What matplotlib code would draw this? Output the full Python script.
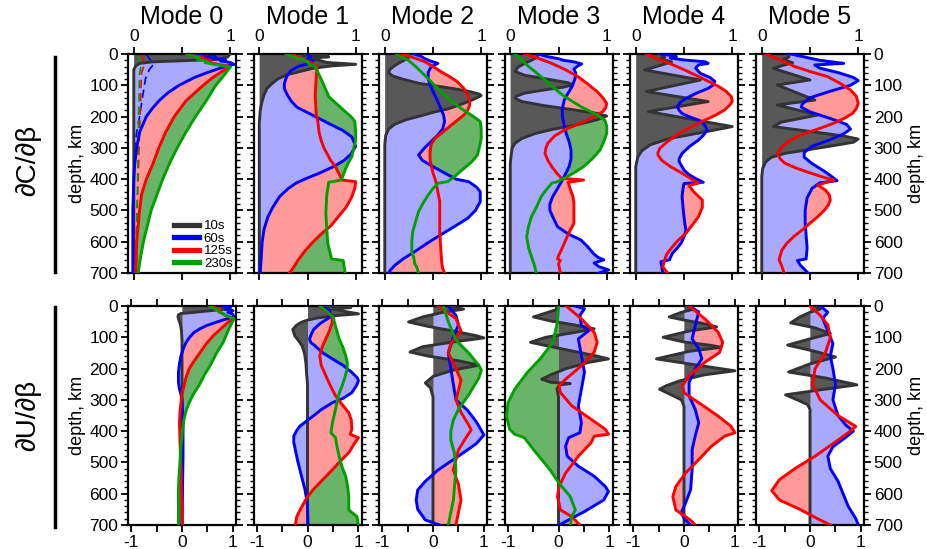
import numpy as np
import matplotlib.pyplot as plt
from matplotlib.lines import Line2D
from matplotlib.ticker import MultipleLocator

plt.rcParams['font.family'] = ['Liberation Sans', 'DejaVu Sans']

periods = ['10s', '60s', '125s', '230s']
line_colors = ['#333333', '#0000ff', '#ff0000', '#00a000']
fill_colors = ['#585858', '#a9a9ff', '#ff9a9a', '#69b469']
modes = [0, 1, 2, 3, 4, 5]

# ---- phase velocity kernels dC/dbeta : (depth km, normalised kernel) ----
dc_m0_10s = [(0, 1.0), (10, 0.97), (17, 0.88), (21, 0.55), (25, 0.2), (30, 0.06), (38, 0.02), (50, 0.0), (700, 0.0)]
dc_m0_60s = [(0, 0.6), (5, 0.62), (9, 0.85), (13, 0.78), (18, 0.95), (22, 0.9), (27, 1.0), (33, 1.04), (40, 0.95),
             (50, 0.85), (62, 0.74), (75, 0.63), (100, 0.47), (125, 0.35), (150, 0.26), (175, 0.19), (200, 0.13),
             (250, 0.06), (300, 0.03), (350, 0.01), (400, 0.0), (500, -0.01), (700, -0.01)]
dc_m0_125s = [(0, 0.55), (5, 0.6), (10, 0.72), (15, 0.68), (20, 0.8), (25, 0.76), (30, 0.82), (40, 1.0), (55, 0.92),
              (75, 0.82), (100, 0.72), (150, 0.54), (200, 0.42), (250, 0.33), (300, 0.26), (350, 0.2), (400, 0.13),
              (450, 0.08), (500, 0.06), (600, 0.03), (700, 0.02)]
dc_m0_230s = [(0, 0.55), (6, 0.6), (12, 0.68), (17, 0.66), (22, 0.75), (27, 0.74), (32, 0.82), (42, 1.0), (70, 0.93),
              (100, 0.85), (150, 0.75), (200, 0.64), (250, 0.54), (300, 0.45), (350, 0.37), (400, 0.3), (450, 0.24),
              (500, 0.18), (550, 0.14), (600, 0.1), (650, 0.07), (700, 0.045)]
# fundamental mode, second set of kernels (dashed)
dc_m0_60s_b = [(0, 0.13), (10, 0.15), (25, 0.19), (35, 0.2), (50, 0.16), (80, 0.12), (120, 0.1), (160, 0.08),
               (200, 0.06), (250, 0.03), (300, 0.01), (400, 0.0), (700, 0.0)]
dc_m0_125s_b = [(0, 0.08), (20, 0.1), (35, 0.11), (60, 0.08), (150, 0.07), (250, 0.06), (350, 0.05), (450, 0.04),
                (550, 0.03), (700, 0.02)]
dc_m0_230s_b = [(0, 0.05), (20, 0.06), (35, 0.08), (60, 0.06), (200, 0.05), (400, 0.04), (550, 0.03), (700, 0.03)]

dc_m1_10s = [(0, 0.7), (5, 0.45), (9, 0.72), (14, 0.5), (20, 0.62), (27, 0.7), (33, 1.0), (38, 0.75), (46, 0.55),
             (56, 0.42), (67, 0.28), (80, 0.19), (95, 0.13), (110, 0.08), (130, 0.05), (150, 0.03), (180, 0.01),
             (220, 0.0), (700, 0.0)]
dc_m1_60s = [(0, 0.5), (8, 0.53), (15, 0.5), (22, 0.56), (30, 0.52), (40, 0.4), (55, 0.32), (75, 0.28), (95, 0.26),
             (110, 0.26), (130, 0.29), (150, 0.33), (170, 0.39), (195, 0.55), (222, 0.72), (245, 0.87), (265, 0.96),
             (295, 1.0), (320, 0.95), (340, 0.88), (360, 0.77), (380, 0.63), (400, 0.47), (413, 0.38), (430, 0.3),
             (456, 0.21), (490, 0.14), (520, 0.09), (560, 0.05), (600, 0.03), (650, 0.02), (700, 0.01)]
dc_m1_125s = [(0, 0.35), (10, 0.4), (20, 0.48), (30, 0.55), (40, 0.6), (80, 0.59), (130, 0.58), (190, 0.59),
              (222, 0.61), (250, 0.62), (275, 0.64), (300, 0.67), (317, 0.7), (340, 0.74), (360, 0.79), (385, 0.83),
              (403, 0.86), (408, 1.0), (430, 0.99), (456, 0.96), (490, 0.9), (520, 0.82), (550, 0.74), (573, 0.65),
              (600, 0.56), (627, 0.48), (660, 0.4), (685, 0.35), (700, 0.31)]
dc_m1_230s = [(0, 0.28), (5, 0.32), (12, 0.38), (18, 0.45), (25, 0.5), (33, 0.52), (40, 0.58), (60, 0.61),
              (100, 0.67), (136, 0.72), (170, 0.84), (200, 0.95), (215, 0.99), (250, 1.0), (275, 1.0), (300, 0.98),
              (328, 0.96), (350, 0.92), (371, 0.89), (403, 0.85), (410, 0.72), (450, 0.7), (509, 0.69), (560, 0.7),
              (605, 0.71), (655, 0.75), (660, 0.87), (700, 0.89)]

dc_m2_10s = [(0, 0.25), (10, 0.25), (20, 0.2), (30, 0.14), (40, 0.09), (50, 0.05), (60, 0.04), (70, 0.08), (80, 0.18),
             (94, 0.36), (110, 0.7), (120, 0.88), (128, 0.98), (133, 1.0), (145, 0.92), (160, 0.8), (175, 0.66),
             (185, 0.52), (197, 0.38), (210, 0.22), (225, 0.1), (240, 0.04), (260, 0.01), (290, 0.0), (700, 0.0)]
dc_m2_60s = [(0, 0.3), (8, 0.38), (14, 0.41), (22, 0.47), (30, 0.55), (38, 0.5), (46, 0.47), (60, 0.45), (78, 0.45),
             (100, 0.47), (120, 0.5), (145, 0.54), (174, 0.58), (195, 0.61), (216, 0.62), (240, 0.6), (259, 0.55),
             (280, 0.48), (301, 0.41), (323, 0.35), (340, 0.39), (360, 0.5), (387, 0.66), (400, 0.74), (408, 0.87),
             (425, 0.95), (440, 0.99), (472, 0.99), (500, 0.94), (525, 0.86), (550, 0.73), (578, 0.58), (605, 0.44),
             (632, 0.31), (655, 0.19), (674, 0.11), (690, 0.06), (700, 0.04)]
dc_m2_125s = [(0, 0.18), (10, 0.28), (24, 0.41), (40, 0.5), (56, 0.58), (72, 0.67), (88, 0.75), (110, 0.82),
              (131, 0.86), (150, 0.88), (163, 0.88), (180, 0.86), (195, 0.82), (210, 0.76), (227, 0.69), (250, 0.6),
              (270, 0.52), (290, 0.48), (312, 0.47), (335, 0.47), (355, 0.48), (380, 0.5), (408, 0.53), (440, 0.55),
              (472, 0.57), (520, 0.57), (568, 0.57), (620, 0.58), (664, 0.59), (685, 0.6), (700, 0.62)]
dc_m2_230s = [(0, 0.12), (10, 0.17), (19, 0.24), (40, 0.32), (67, 0.41), (95, 0.5), (120, 0.58), (150, 0.69),
              (174, 0.79), (190, 0.87), (200, 0.92), (216, 0.99), (240, 1.0), (270, 1.0), (300, 0.98), (323, 0.96),
              (345, 0.9), (366, 0.82), (390, 0.73), (408, 0.65), (413, 0.55), (430, 0.5), (451, 0.45), (475, 0.4),
              (504, 0.35), (535, 0.32), (568, 0.29), (600, 0.28), (632, 0.28), (650, 0.3), (670, 0.31), (680, 0.33),
              (700, 0.35)]

dc_m3_10s = [(0, 0.28), (10, 0.28), (20, 0.22), (30, 0.15), (42, 0.08), (56, 0.05), (68, 0.15), (80, 0.38),
             (92, 0.6), (99, 0.65), (106, 0.55), (115, 0.35), (125, 0.15), (135, 0.06), (142, 0.05), (152, 0.12),
             (165, 0.35), (178, 0.65), (190, 0.9), (198, 1.0), (210, 0.9), (227, 0.68), (240, 0.45), (254, 0.26),
             (270, 0.12), (285, 0.05), (300, 0.02), (320, 0.01), (350, 0.0), (700, 0.0)]
dc_m3_60s = [(0, 0.29), (8, 0.38), (15, 0.5), (20, 0.55), (25, 0.66), (32, 0.74), (38, 0.7), (48, 0.66), (62, 0.68),
             (80, 0.67), (104, 0.64), (125, 0.6), (147, 0.56), (175, 0.54), (200, 0.54), (230, 0.56), (254, 0.58),
             (280, 0.61), (307, 0.63), (335, 0.63), (360, 0.61), (385, 0.57), (403, 0.54), (430, 0.49), (456, 0.44),
             (480, 0.41), (499, 0.41), (520, 0.44), (552, 0.49), (575, 0.6), (594, 0.73), (615, 0.8), (637, 0.86),
             (650, 0.91), (658, 0.97), (668, 0.87), (680, 0.92), (690, 1.02), (700, 0.92)]
dc_m3_125s = [(0, 0.15), (15, 0.3), (30, 0.43), (50, 0.57), (72, 0.7), (95, 0.8), (120, 0.9), (140, 0.96), (158, 1.0),
              (172, 0.99), (184, 0.96), (198, 0.88), (211, 0.8), (227, 0.68), (243, 0.56), (262, 0.46), (285, 0.39),
              (300, 0.37), (318, 0.36), (340, 0.39), (360, 0.43), (380, 0.48), (397, 0.53), (403, 0.76), (410, 0.6),
              (430, 0.62), (456, 0.65), (477, 0.66), (510, 0.66), (541, 0.66), (565, 0.62), (584, 0.59), (605, 0.56),
              (626, 0.53), (645, 0.5), (655, 0.49), (660, 0.52), (670, 0.5), (700, 0.52)]
dc_m3_230s = [(0, 0.05), (20, 0.12), (40, 0.19), (60, 0.27), (83, 0.36), (105, 0.44), (126, 0.52), (147, 0.62),
              (168, 0.73), (182, 0.82), (195, 0.9), (211, 0.98), (230, 1.0), (254, 1.0), (280, 0.97), (307, 0.93),
              (335, 0.85), (360, 0.76), (378, 0.67), (392, 0.59), (403, 0.52), (408, 0.49), (413, 0.43), (435, 0.37),
              (456, 0.32), (490, 0.27), (520, 0.22), (550, 0.19), (584, 0.17), (620, 0.19), (648, 0.22), (675, 0.25),
              (700, 0.27)]

dc_m4_10s = [(0, 0.25), (10, 0.3), (15, 0.25), (25, 0.37), (35, 0.27), (51, 0.09), (83, 0.67), (120, 0.11),
             (152, 0.75), (184, 0.13), (232, 1.0), (250, 0.7), (270, 0.35), (290, 0.15), (310, 0.06), (330, 0.02),
             (360, 0.0), (700, 0.0)]
dc_m4_60s = [(0, 0.27), (8, 0.42), (13, 0.36), (19, 0.5), (25, 0.72), (30, 0.75), (35, 0.65), (45, 0.62), (62, 0.67),
             (75, 0.77), (88, 0.82), (100, 0.8), (110, 0.75), (125, 0.63), (142, 0.52), (155, 0.46), (168, 0.43),
             (180, 0.45), (190, 0.48), (200, 0.55), (211, 0.65), (225, 0.71), (243, 0.74), (260, 0.7), (275, 0.65),
             (295, 0.56), (318, 0.48), (335, 0.45), (344, 0.45), (360, 0.48), (371, 0.5), (385, 0.55), (398, 0.62),
             (410, 0.7), (414, 0.5), (430, 0.49), (456, 0.48), (490, 0.49), (520, 0.5), (545, 0.51), (563, 0.52),
             (585, 0.5), (605, 0.47), (620, 0.43), (637, 0.38), (650, 0.36), (658, 0.35), (664, 0.26), (680, 0.27),
             (700, 0.28)]
dc_m4_125s = [(0, 0.11), (15, 0.22), (30, 0.35), (50, 0.5), (72, 0.65), (90, 0.77), (104, 0.86), (120, 0.94),
              (136, 0.99), (152, 1.0), (165, 0.97), (179, 0.92), (195, 0.83), (211, 0.72), (232, 0.58), (254, 0.45),
              (280, 0.33), (301, 0.25), (315, 0.23), (323, 0.23), (340, 0.27), (360, 0.36), (381, 0.48), (400, 0.58),
              (413, 0.65), (420, 0.55), (440, 0.6), (467, 0.69), (490, 0.69), (520, 0.65), (545, 0.59), (573, 0.52),
              (595, 0.44), (616, 0.38), (640, 0.32), (658, 0.3), (680, 0.28), (700, 0.33)]

dc_m5_10s = [(0, 0.28), (10, 0.28), (18, 0.22), (28, 0.32), (38, 0.2), (46, 0.12), (83, 0.5), (99, 0.16),
             (147, 0.55), (163, 0.16), (195, 0.58), (218, 0.2), (232, 0.12), (262, 0.85), (272, 1.0), (282, 0.95),
             (295, 0.7), (305, 0.5), (317, 0.25), (330, 0.1), (345, 0.04), (365, 0.01), (390, 0.0), (700, 0.0)]
dc_m5_60s = [(0, 0.3), (10, 0.45), (20, 0.6), (30, 0.85), (35, 0.55), (45, 0.6), (60, 0.8), (75, 0.95), (85, 1.0),
             (100, 0.92), (120, 0.7), (140, 0.5), (160, 0.42), (170, 0.41), (185, 0.5), (205, 0.7), (225, 0.88),
             (240, 0.92), (255, 0.85), (275, 0.7), (295, 0.52), (315, 0.44), (330, 0.44), (350, 0.52), (375, 0.65),
             (395, 0.74), (405, 0.78), (412, 0.6), (430, 0.52), (460, 0.47), (500, 0.45), (540, 0.45), (580, 0.46),
             (620, 0.47), (655, 0.46), (660, 0.37), (675, 0.4), (700, 0.48)]
dc_m5_125s = [(0, 0.04), (20, 0.2), (40, 0.34), (56, 0.5), (72, 0.68), (95, 0.82), (115, 0.92), (135, 0.98),
              (158, 1.0), (175, 0.98), (190, 0.94), (205, 0.86), (222, 0.74), (238, 0.6), (254, 0.44), (275, 0.3),
              (296, 0.21), (317, 0.16), (335, 0.19), (349, 0.24), (365, 0.36), (381, 0.51), (395, 0.65), (403, 0.75),
              (419, 0.58), (435, 0.66), (450, 0.7), (467, 0.71), (483, 0.69), (499, 0.65), (520, 0.58), (541, 0.5),
              (562, 0.42), (584, 0.33), (605, 0.26), (626, 0.21), (645, 0.19), (658, 0.18), (680, 0.21), (700, 0.23)]

# ---- group velocity kernels dU/dbeta ----
du_m0_10s = [(0, 0.9), (5, 0.95), (10, 0.85), (15, 0.55), (20, 0.25), (24, -0.02), (28, -0.07), (35, -0.08),
             (45, -0.06), (60, -0.03), (80, -0.01), (110, 0.0), (700, 0.0)]
du_m0_60s = [(0, 0.8), (5, 0.95), (10, 0.85), (15, 1.0), (20, 0.9), (27, 1.0), (35, 1.02), (45, 0.8), (62, 0.49),
             (73, 0.35), (84, 0.24), (100, 0.15), (116, 0.08), (135, 0.03), (159, -0.02), (185, -0.05), (212, -0.07),
             (244, -0.07), (265, -0.05), (277, -0.03), (298, 0.0), (330, 0.01), (373, 0.02), (480, 0.02), (587, 0.01),
             (700, 0.0)]
du_m0_125s = [(0, 0.6), (6, 0.65), (12, 0.75), (18, 0.72), (24, 0.8), (30, 0.85), (39, 1.0), (60, 0.85), (94, 0.62),
              (120, 0.48), (148, 0.36), (175, 0.24), (201, 0.14), (228, 0.08), (255, 0.04), (280, 0.0), (309, -0.02),
              (340, -0.04), (373, -0.05), (427, -0.04), (480, -0.03), (534, -0.02), (600, -0.01), (641, 0.0),
              (700, 0.01)]
du_m0_230s = [(0, 0.55), (6, 0.6), (12, 0.7), (18, 0.72), (24, 0.8), (30, 0.85), (41, 1.02), (80, 0.9), (116, 0.81),
              (150, 0.68), (191, 0.55), (220, 0.44), (255, 0.33), (280, 0.23), (309, 0.14), (335, 0.08), (362, 0.04),
              (395, 0.01), (427, -0.01), (465, -0.03), (501, -0.04), (545, -0.06), (587, -0.07), (650, -0.07),
              (700, -0.07)]

du_m1_10s = [(0, 0.35), (5, 0.85), (10, 0.5), (18, 0.75), (25, 1.0), (30, 0.6), (38, 0.2), (45, 0.0), (52, -0.12),
             (62, -0.22), (75, -0.29), (95, -0.25), (110, -0.18), (126, -0.11), (145, -0.07), (160, -0.05),
             (185, -0.03), (212, -0.02), (250, 0.0), (700, 0.0)]
du_m1_60s = [(0, 0.25), (8, 0.35), (15, 0.45), (22, 0.42), (30, 0.49), (40, 0.4), (57, 0.24), (75, 0.12), (89, 0.08),
             (105, 0.04), (116, 0.06), (126, 0.14), (150, 0.3), (169, 0.49), (190, 0.7), (212, 0.87), (230, 0.98),
             (239, 1.0), (255, 0.96), (277, 0.87), (295, 0.7), (309, 0.49), (330, 0.28), (352, 0.11), (368, -0.02),
             (384, -0.15), (400, -0.22), (416, -0.27), (435, -0.27), (459, -0.24), (490, -0.2), (523, -0.15),
             (555, -0.1), (587, -0.05), (615, -0.02), (641, 0.0), (700, 0.01)]
du_m1_125s = [(0, 0.25), (10, 0.3), (20, 0.38), (30, 0.47), (51, 0.49), (80, 0.43), (105, 0.36), (130, 0.29),
              (159, 0.24), (190, 0.27), (223, 0.36), (255, 0.45), (287, 0.55), (315, 0.68), (341, 0.81), (365, 0.86),
              (394, 0.87), (410, 0.84), (421, 1.0), (445, 0.9), (469, 0.81), (495, 0.65), (523, 0.49), (555, 0.3),
              (587, 0.11), (615, -0.02), (641, -0.11), (660, -0.17), (673, -0.21), (700, -0.24)]
du_m1_230s = [(0, 0.25), (10, 0.32), (20, 0.4), (35, 0.5), (70, 0.56), (105, 0.62), (130, 0.69), (159, 0.75),
              (180, 0.78), (201, 0.78), (230, 0.73), (255, 0.68), (280, 0.62), (298, 0.59), (330, 0.55), (373, 0.49),
              (405, 0.46), (421, 0.55), (450, 0.58), (480, 0.62), (515, 0.68), (544, 0.75), (580, 0.79), (609, 0.81),
              (652, 0.81), (673, 0.97), (700, 1.0)]

du_m2_10s = [(0, 0.3), (10, 0.6), (20, 0.2), (35, -0.2), (51, -0.48), (65, -0.1), (80, 0.4), (95, 0.85), (102, 1.0),
             (115, 0.4), (130, -0.2), (147, -0.45), (160, -0.1), (175, 0.5), (189, 0.9), (205, 0.4), (225, 0.0),
             (246, -0.15), (262, -0.05), (290, 0.0), (700, 0.0)]
du_m2_60s = [(0, 0.3), (30, 0.45), (60, 0.5), (100, 0.4), (150, 0.3), (200, 0.35), (250, 0.4), (300, 0.45),
             (332, 0.67), (370, 0.85), (412, 1.0), (440, 0.85), (480, 0.5), (524, 0.1), (560, -0.15), (588, -0.3),
             (620, -0.33), (650, -0.3), (684, -0.15), (700, 0.13)]
du_m2_125s = [(0, 0.1), (40, 0.45), (80, 0.55), (120, 0.35), (150, 0.3), (200, 0.45), (237, 0.55), (270, 0.5),
              (300, 0.45), (340, 0.55), (380, 0.7), (396, 0.75), (420, 0.65), (460, 0.5), (524, 0.4), (570, 0.5),
              (620, 0.55), (660, 0.5), (700, 0.45)]
du_m2_230s = [(0, 0.2), (50, 0.3), (109, 0.45), (150, 0.7), (190, 0.9), (205, 0.95), (230, 0.9), (284, 0.7),
              (330, 0.5), (364, 0.4), (400, 0.35), (428, 0.35), (470, 0.42), (524, 0.45), (580, 0.42), (620, 0.4),
              (660, 0.35), (700, 0.3)]

du_m3_10s = [(0, -0.05), (10, -0.02), (20, -0.2), (35, -0.49), (48, -0.15), (60, 0.3), (73, 0.7), (85, 0.3),
             (100, -0.25), (116, -0.55), (130, -0.15), (148, 0.4), (160, 0.75), (169, 0.98), (180, 0.6), (200, 0.15),
             (220, -0.15), (234, -0.33), (244, -0.15), (248, 0.23), (252, 0.02), (265, -0.03), (290, 0.0), (700, 0.0)]
du_m3_60s = [(0, 0.33), (9, 0.51), (30, 0.42), (62, 0.45), (78, 0.6), (105, 0.39), (159, 0.45), (212, 0.51),
             (266, 0.45), (319, 0.39), (373, 0.45), (405, 0.42), (421, 0.2), (448, 0.14), (480, 0.17), (512, 0.39),
             (544, 0.7), (577, 0.92), (593, 0.98), (620, 0.89), (657, 0.51), (684, 0.2), (700, 0.01)]
du_m3_125s = [(0, 0.15), (41, 0.45), (84, 0.7), (116, 0.76), (148, 0.7), (191, 0.45), (234, 0.14), (255, 0.01),
              (277, 0.04), (319, 0.26), (362, 0.64), (394, 0.92), (410, 0.98), (416, 0.7), (437, 0.64), (480, 0.39),
              (534, 0.14), (577, 0.01), (609, -0.02), (652, 0.04), (673, 0.26), (700, 0.42)]
du_m3_230s = [(0, 0.0), (51, -0.02), (116, -0.11), (169, -0.36), (212, -0.61), (266, -0.86), (309, -0.99),
              (352, -1.02), (394, -0.96), (410, -0.86), (421, -0.67), (459, -0.49), (523, -0.17), (566, 0.01),
              (609, 0.23), (652, 0.33), (673, 0.26), (700, 0.23)]

du_m4_10s = [(0, 0.05), (10, 0.2), (20, -0.05), (35, -0.29), (45, 0.0), (55, 0.35), (67, 0.64), (80, 0.1),
             (100, -0.41), (115, 0.0), (125, 0.5), (132, 0.73), (145, 0.1), (160, -0.3), (169, -0.54), (180, -0.1),
             (195, 0.5), (207, 1.0), (220, 0.4), (240, -0.1), (255, -0.35), (266, -0.48), (280, -0.3), (300, -0.05),
             (320, 0.0), (700, 0.0)]
du_m4_60s = [(0, 0.1), (19, 0.29), (62, 0.22), (105, 0.16), (137, 0.29), (169, 0.35), (201, 0.22), (244, 0.1),
             (287, 0.1), (330, 0.22), (373, 0.29), (416, 0.22), (459, 0.16), (523, 0.16), (587, 0.13), (630, 0.03),
             (662, -0.06), (684, 0.03), (700, 0.13)]
du_m4_125s = [(0, 0.1), (41, 0.41), (84, 0.67), (116, 0.76), (148, 0.7), (180, 0.41), (223, 0.1), (255, -0.03),
              (277, 0.0), (309, 0.29), (352, 0.67), (384, 0.92), (405, 1.0), (416, 0.8), (448, 0.54), (491, 0.29),
              (534, 0.03), (577, -0.16), (609, -0.22), (652, -0.16), (673, 0.03), (689, 0.16), (700, 0.22)]

du_m5_10s = [(0, 0.1), (10, 0.2), (20, 0.0), (35, -0.2), (54, -0.38), (70, 0.1), (88, 0.4), (105, 0.0),
             (125, -0.44), (145, 0.1), (163, 0.5), (185, 0.0), (211, -0.42), (230, 0.3), (252, 0.92), (268, 0.2),
             (284, -0.48), (300, -0.25), (315, -0.05), (330, 0.0), (700, 0.0)]
du_m5_60s = [(0, 0.2), (20, 0.35), (40, 0.25), (80, 0.35), (120, 0.45), (160, 0.4), (200, 0.45), (250, 0.5),
             (300, 0.45), (350, 0.55), (380, 0.7), (400, 0.85), (420, 0.7), (450, 0.45), (480, 0.35), (520, 0.4),
             (560, 0.55), (600, 0.65), (640, 0.75), (680, 0.9), (700, 0.95)]
du_m5_125s = [(0, 0.0), (30, 0.2), (60, 0.35), (100, 0.4), (150, 0.3), (200, 0.1), (250, 0.05), (300, 0.2),
              (350, 0.55), (385, 0.9), (405, 0.75), (440, 0.45), (480, 0.1), (520, -0.3), (555, -0.6), (590, -0.75),
              (620, -0.6), (650, -0.2), (680, 0.15), (700, 0.4)]

dc_panels = [
    [dc_m0_10s, dc_m0_60s, dc_m0_125s, dc_m0_230s],
    [dc_m1_10s, dc_m1_60s, dc_m1_125s, dc_m1_230s],
    [dc_m2_10s, dc_m2_60s, dc_m2_125s, dc_m2_230s],
    [dc_m3_10s, dc_m3_60s, dc_m3_125s, dc_m3_230s],
    [dc_m4_10s, dc_m4_60s, dc_m4_125s, None],
    [dc_m5_10s, dc_m5_60s, dc_m5_125s, None],
]
du_panels = [
    [du_m0_10s, du_m0_60s, du_m0_125s, du_m0_230s],
    [du_m1_10s, du_m1_60s, du_m1_125s, du_m1_230s],
    [du_m2_10s, du_m2_60s, du_m2_125s, du_m2_230s],
    [du_m3_10s, du_m3_60s, du_m3_125s, du_m3_230s],
    [du_m4_10s, du_m4_60s, du_m4_125s, None],
    [du_m5_10s, du_m5_60s, du_m5_125s, None],
]


def draw_kernels(ax, curves):
    # fills from zero: long periods first, short periods painted over them
    for i in reversed(range(len(curves))):
        c = curves[i]
        if c is None:
            continue
        z = [p[0] for p in c]
        v = [p[1] for p in c]
        ax.fill_betweenx(z, 0, v, color=fill_colors[i], lw=0, zorder=1 + (3 - i) * 0.1)
    for i, c in enumerate(curves):
        if c is None:
            continue
        z = [p[0] for p in c]
        v = [p[1] for p in c]
        ax.plot(v, z, color=line_colors[i], lw=2.1, solid_joinstyle='round', zorder=3 + i * 0.1)


def style_axis(ax, row, col):
    ax.set_ylim(700, 0)
    ax.yaxis.set_major_locator(MultipleLocator(100))
    ax.yaxis.set_minor_locator(MultipleLocator(20))
    if row == 0:
        ax.set_xlim(-0.06, 1.06)
        ax.set_xticks([0, 0.5, 1])
        ax.set_xticklabels(['0', '', '1'])
        ax.tick_params(axis='x', which='both', top=True, bottom=True, labeltop=True, labelbottom=False)
    else:
        ax.set_xlim(-1.06, 1.06)
        ax.set_xticks([-1, -0.5, 0, 0.5, 1])
        ax.set_xticklabels(['-1', '', '0', '', '1'])
        ax.tick_params(axis='x', which='both', top=True, bottom=True, labeltop=False, labelbottom=True)
    ax.tick_params(axis='y', which='both', left=True, right=True,
                   labelleft=(col == 0), labelright=(col == 5))
    ax.tick_params(which='major', direction='out', length=5, width=1.3, labelsize=12.5, pad=2)
    ax.tick_params(which='minor', direction='out', length=3, width=1.0)
    for s in ax.spines.values():
        s.set_linewidth(1.6)
    if col == 0:
        ax.set_ylabel('depth, km', fontsize=13, labelpad=2)
    if col == 5:
        ax.yaxis.set_label_position('right')
        ax.set_ylabel('depth, km', fontsize=13, labelpad=4)


fig = plt.figure(figsize=(9.27, 5.49), dpi=100)
W, H = 927.0, 549.0
lefts = [128, 253.5, 379, 504.5, 630, 756]
pw = 108
row_tops = [54, 306]
ph = 219

for row, panels in enumerate([dc_panels, du_panels]):
    for col, curves in enumerate(panels):
        ax = fig.add_axes([lefts[col] / W, 1 - (row_tops[row] + ph) / H, pw / W, ph / H])
        draw_kernels(ax, curves)
        if row == 0 and col == 0:
            for c, lc in zip([dc_m0_60s_b, dc_m0_125s_b, dc_m0_230s_b], line_colors[1:]):
                ax.plot([p[1] for p in c], [p[0] for p in c], color=lc, lw=1.2, ls=(0, (5, 3)), zorder=2)
            handles = [Line2D([], [], color=lc, lw=3.8) for lc in line_colors]
            ax.legend(handles, periods, loc='lower right', frameon=False, fontsize=9.5,
                      handlelength=1.9, handletextpad=0.35, labelspacing=0.02, borderpad=0.15,
                      borderaxespad=0.1)
        style_axis(ax, row, col)
        if row == 0:
            ax.set_title(f'Mode {modes[col]}', fontsize=18, pad=3)

fig.text(28 / W, 1 - 160 / H, '∂C/∂β', rotation=90, fontsize=20, ha='center', va='center')
fig.text(28 / W, 1 - 415 / H, '∂U/∂β', rotation=90, fontsize=20, ha='center', va='center')
fig.add_artist(Line2D([55 / W, 55 / W], [1 - 57 / H, 1 - 272 / H], color='black', lw=2.5))
fig.add_artist(Line2D([55 / W, 55 / W], [1 - 307 / H, 1 - 527 / H], color='black', lw=2.5))

fig.savefig('out.png', dpi=100)
